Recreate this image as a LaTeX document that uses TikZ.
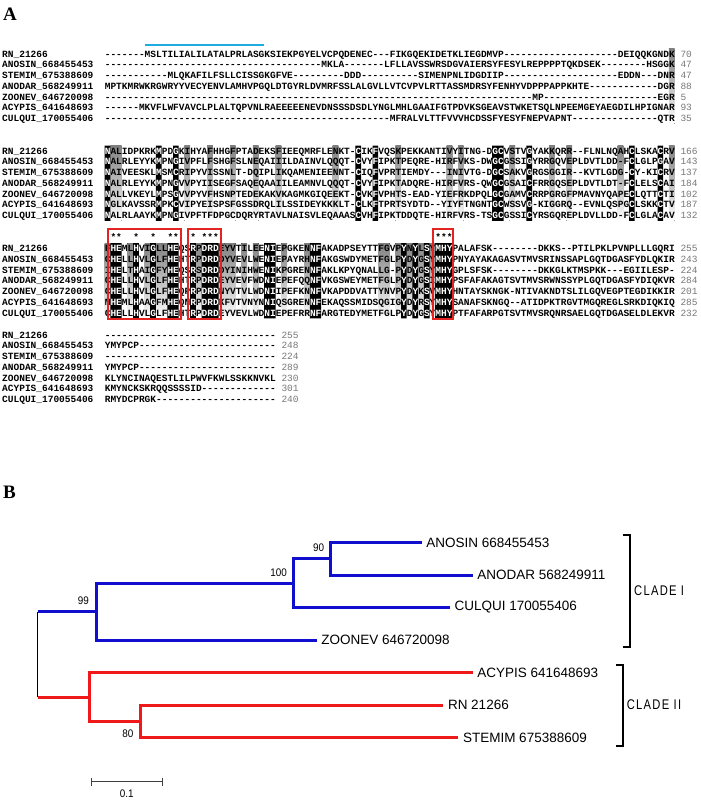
\documentclass[tikz,border=0pt]{standalone}
\usepackage{fontspec}
\setmainfont{Liberation Serif}
\setsansfont{Liberation Sans}
\setmonofont{Liberation Mono}
\newfontfamily\cladefont[FakeStretch=0.8,LetterSpace=9]{Liberation Sans}
\newfontfamily\bsfont[FakeStretch=0.9]{Liberation Sans}
\usetikzlibrary{positioning}

\definecolor{treeblue}{RGB}{15,15,205}
\definecolor{treered}{RGB}{240,25,25}
\definecolor{boxred}{RGB}{228,35,35}
\definecolor{barcyan}{RGB}{30,172,225}
\definecolor{numgray}{RGB}{120,120,120}
\definecolor{shade}{RGB}{228,228,228}

\newcommand{\alnfont}{\ttfamily\bfseries\fontsize{9.5}{9.5}\selectfont}
\newcommand{\numfont}{\ttfamily\fontsize{9.5}{9.5}\selectfont}
\newcommand{\leaffont}{\sffamily\fontsize{13.5}{13.5}\selectfont}
\newcommand{\bootfont}{\bsfont\fontsize{11}{11}\selectfont}

\newcommand{\colw}{5.7}   % width of one alignment column
\newcommand{\rowh}{10.75} % distance between alignment rows
\newcommand{\gaps}[1]{\foreach \k in {1,...,#1}{-}}

% alignment rows: name / sequence / end position
\newcommand{\rowsA}{%
RN\_21266/\gaps{7}MSLTILIALILATALPRLASGKSIEKPGYELVCPQDENEC\gaps{3}FIKGQEKIDETKLIEGDMVP\gaps{20}DEIQQKGNDK/70,%
ANOSIN\_668455453/\gaps{38}MKLA\gaps{7}LFLLAVSSWRSDGVAIERSYFESYLREPPPPTQKDSEK\gaps{8}HSGGK/47,%
STEMIM\_675388609/\gaps{11}MLQKAFILFSLLCISSGKGFVE\gaps{9}DDD\gaps{10}SIMENPNLIDGDIIP\gaps{20}EDDN\gaps{3}DNR/47,%
ANODAR\_568249911/MPTKMRWKRGWRYYVECYENVLAMHVPGQLDTGYRLDVMRFSSLALGVLLVTCVPVLRTTASSMDRSYFENHYVDPPPAPPKHTE\gaps{12}DGR/88,%
ZOONEV\_646720098/\gaps{75}MP\gaps{20}EGR/5,%
ACYPIS\_641648693/\gaps{6}MKVFLWFVAVCLPLALTQPVNLRAEEEEENEVDNSSSDSDLYNGLMHLGAAIFGTPDVKSGEAVSTWKETSQLNPEEMGEYAEGDILHPIGNAR/93,%
CULQUI\_170055406/\gaps{50}MFRALVLTTFVVVHCDSSFYESYFNEPVAPNT\gaps{15}QTR/35}
\newcommand{\rowsB}{%
RN\_21266/NALIDPKRKMPDGKIHYAFHHGFPTADEKSFIEEQMRFLENKT-CIKFVQSKPEKKANTIVYITNG-DGCVSTVGYAKKQRR\gaps{2}FLNLNQAHCLSKACRV/166,%
ANOSIN\_668455453/NALRLEYYKMPNGIVPFLFSHGFSLNEQAIIILDAINVLQQQT-CVYFIPKTPEQRE-HIRFVKS-DWGCGSSIGYRRGQVEPLDVTLDD-FCLGLPGAV/143,%
STEMIM\_675388609/NAIVEESKLMSMCRIPYVISSNLT-DQIPLIKQAMENIEENNT-CIQFVPRTIEMDY\gaps{3}INIVTG-DGCSAKVGRGSGGIR\gaps{2}KVTLGDG-CY-KICRV/137,%
ANODAR\_568249911/NALRLEYYKMPNGVVPYIISEGFSAQEQAAIILEAMNVLQQQT-CVYFIPKTADQRE-HIRFVRS-QWGCGSAICFRRGQSEPLDVTLDT-FCLELSCAI/184,%
ZOONEV\_646720098/NALLVKEYLMPSGVVPYVFHSNPTEDEKAKVKAGMKGIQEEKT-CVKFVPHTS-EAD-YIEFRKDPQLGCGAMVCRRPGRGFPMAVNYQAPECLQTTCTI/102,%
ACYPIS\_641648693/NGLKAVSSRMPKCVIPYEISPSFGSSDRQLILSSIDEYKKKLT-CLKFTPRTSYDTD\gaps{2}YIYFTNGNTGCWSSVG-KIGGRQ\gaps{2}EVNLQSPGCLSKKCTV/187,%
CULQUI\_170055406/NALRLAAYKMPNGIVPFTFDPGCDQRYRTAVLNAISVLEQAAASCVHFIPKTDDQTE-HIRFVRS-TSGCGSSICYRSGQREPLDVLLDD-FCLGLACAV/132}
\newcommand{\rowsC}{%
RN\_21266/FHEMLHVIGLLHEQSRPDRDEYVTILEENIEPGKENNFAKADPSEYTTFGVPYNYLSYMHYPALAFSK\gaps{8}DKKS\gaps{2}PTILPKLPVNPLLLGQRI/255,%
ANOSIN\_668455453/CHELLHVLGLFHEHTRPDRDDYVEVLWENIEPAYRHNFAKGSWDYMETFGLPYDYGSYMHYPNYAYAKAGASVTMVSRINSSAPLGQTDGASFYDLQKIR/243,%
STEMIM\_675388609/IHELTHAIGFYHEQSRSDRDDYINIHWENIKPGRENNFAKLKPYQNALLG-PYDYGSYMHYGPLSFSK\gaps{8}DKKGLKTMSPKK\gaps{3}EGIILESP-/224,%
ANODAR\_568249911/CHELLHVLGLFHEHTRPDRDEYVEVFWDNIEPEFQQNFVKGSWEYMETFGLPYDYGSIMHYPSFAFAKAGTSVTMVSRWNSSYPLGQTDGASFYDIQKVR/284,%
ZOONEV\_646720098/CHELLHVLGLFHEQPRPDRDNYVTVLWDNIIPEFKNNFVKAPDDVATTYNVPYDYKSVMHYHNTAYSKNGK-NTIVAKNDTSLILGQVEGPTEGDIKKIR/201,%
ACYPIS\_641648693/MHEMLHAAGFMHEQNRPDRDKFVTVNYNNIQSGRENNFEKAQSSMIDSQGIGYDYRSYMHYSANAFSKNGQ\gaps{2}ATIDPKTRGVTMGQREGLSRKDIQKIQ/285,%
CULQUI\_170055406/CHELLHVLGLFHEHTRPDRDEYVEVLWDNIEPEFRRNFARGTEDYMETFGLPYDYGSYMHYPTFAFARPGTSVTMVSRQNRSAELGQTDGASELDLEKVR/232}
\newcommand{\rowsD}{%
RN\_21266/\gaps{30}/255,%
ANOSIN\_668455453/YMYPCP\gaps{24}/248,%
STEMIM\_675388609/\gaps{30}/224,%
ANODAR\_568249911/YMYPCP\gaps{24}/289,%
ZOONEV\_646720098/KLYNCINAQESTLILPWVFKWLSSKKNVKL/230,%
ACYPIS\_641648693/KMYNCKSKRQQSSSSID\gaps{13}/301,%
CULQUI\_170055406/RMYDCPRGK\gaps{21}/240}

% #1 prefix, #2 y of first row, #3 rows, #4 x of end numbers
\newcommand{\alnblock}[4]{%
  \foreach \rname/\rseq/\rnum [count=\r from 0] in #3 {
    \node[alnname] (#1n\r) at (2,#2+\r*\rowh) {\rname};
    \node[alnseq] (#1s\r) at (104.6,#2+\r*\rowh) {\rseq};
    \node[alnnum] (#1e\r) at (#4,#2+\r*\rowh) {\rnum};
  }}
% #1 columns, #2 y of first row
\newcommand{\shadecols}[2]{%
  \foreach \c in {#1}
    \fill[shade] (104.6+\c*\colw,#2-5.4) rectangle ++(\colw,6*\rowh+10.8);}
% #1 columns, #2 y of first row, #3 rows, #4 prefix
\newcommand{\blackcols}[4]{%
  \begin{scope}
    \clip \foreach \c in {#1} {(104.6+\c*\colw,#2-5.4) rectangle ++(\colw,6*\rowh+10.8)};
    \fill[black] (0,0) rectangle (701,800);
    \foreach \rname/\rseq/\rnum [count=\r from 0] in #3
      \node[alnseq,text=white] (#4w\r) at (104.6,#2+\r*\rowh) {\rseq};
  \end{scope}}

\begin{document}
\begin{tikzpicture}[x=1pt,y=-1pt,
  alnname/.style={font=\alnfont,anchor=base west,inner sep=0pt,yshift=-3.1pt},
  alnseq/.style={font=\alnfont,anchor=base west,inner sep=0pt,yshift=-3.1pt},
  alnnum/.style={font=\numfont,text=numgray,anchor=base west,inner sep=0pt,yshift=-3.1pt},
  panel/.style={font=\rmfamily\bfseries\fontsize{19}{19}\selectfont,inner sep=0pt},
  redbox/.style={draw=boxred,line width=2pt},
  bluebr/.style={treeblue,line width=3pt},
  redbr/.style={treered,line width=3pt},
  leaf/.style={font=\leaffont,anchor=west,inner xsep=4.5pt,inner ysep=0pt},
  boot/.style={font=\bootfont,inner sep=0pt},
  clade/.style={font=\cladefont\fontsize{14}{14}\selectfont,anchor=west,inner sep=0pt},
  bracket/.style={black,line width=1.6pt},
  scalebar/.style={black!75,line width=1.3pt}]
\useasboundingbox[fill=white] (0,0) rectangle (701,800);

% panel A: alignment
\node[panel] (lblA) at (10,14.5) {A};
\draw[barcyan,line width=2.6pt] (104.6+7*\colw,45) -- (104.6+28*\colw,45);

\shadecols{99}{54}
\shadecols{1,2,14,18,22,26,30,40,51,60,62,71,78,81,90,99}{151}
\shadecols{0,4,7,9,10,16,20,21,22,24,26,31,35,48,49,51,53,55,57}{248.5}

\alnblock{a}{54}{\rowsA}{680.3}
\alnblock{b}{151}{\rowsB}{680.3}
\alnblock{c}{248.5}{\rowsC}{680.3}
\alnblock{d}{335}{\rowsD}{281.3}

\blackcols{0,9,12,44,47,68,69,74,92,97}{151}{\rowsB}{b}
\blackcols{1,2,5,8,11,12,15,17,18,19,28,29,36,37,52,54,56,58,59,60}{248.5}{\rowsC}{c}

\foreach \c in {1,2,5,8,11,12,15,17,18,19,58,59,60}
  \node[alnseq] (star\c) at (104.6+\c*\colw,248.5-\rowh) {*};

\draw[redbox] (104.6+1*\colw-2,229) rectangle (104.6+13*\colw+2,318.7);
\draw[redbox] (104.6+15*\colw-2,229) rectangle (104.6+20*\colw+2,318.7);
\draw[redbox] (104.6+58*\colw-2,229) rectangle (104.6+61*\colw+1,318.7);

% panel B: tree
\node[panel] (lblB) at (9.5,492) {B};

\coordinate (rtop) at (37.7,611.5);
\coordinate (rbot) at (37.7,697);
\coordinate (n99) at (96,611.5);
\coordinate (n100) at (293.3,583.2);
\coordinate (n90) at (330,558.8);
\coordinate (nII) at (89.3,697);
\coordinate (n80) at (140.7,721.2);

\node[leaf] (anosin) at (421.7,542.5) {ANOSIN 668455453};
\node[leaf] (anodar) at (472.7,575) {ANODAR 568249911};
\node[leaf] (culqui) at (450,607.5) {CULQUI 170055406};
\node[leaf] (zoonev) at (316.7,640) {ZOONEV 646720098};
\node[leaf] (acypis) at (472.7,672.5) {ACYPIS 641648693};
\node[leaf] (rn) at (443.3,705) {RN 21266};
\node[leaf] (stemim) at (458.3,737.5) {STEMIM 675388609};

\draw[line width=0.8pt] (rtop) -- (rbot);
\draw[bluebr] (rtop) -- (n99);
\draw[bluebr] (n99) |- (n100) (n99) |- (zoonev.west);
\draw[bluebr] (n100) |- (n90) (n100) |- (culqui.west);
\draw[bluebr] (n90) |- (anosin.west) (n90) |- (anodar.west);
\draw[redbr] (rbot) -- (nII);
\draw[redbr] (nII) |- (acypis.west) (nII) |- (n80);
\draw[redbr] (n80) |- (rn.west) (n80) |- (stemim.west);

\node[boot,above left=6.6pt and 7pt of n99] (b99) {99};
\node[boot,above left=6.7pt and 6.3pt of n100] (b100) {100};
\node[boot,above left=6.9pt and 5.7pt of n90] (b90) {90};
\node[boot,below left=8.7pt and 7pt of n80] (b80) {80};

\draw[bracket] (623.3,535) -- (630,535) -- (630,646.7) -- (623.3,646.7);
\node[clade] (cladeI) at (634,591) {CLADE I};
\draw[bracket] (616,665) -- (622.7,665) -- (622.7,745.7) -- (616,745.7);
\node[clade] (cladeII) at (626.7,705) {CLADE II};

\draw[scalebar] (91.7,777.7) -- (91.7,785.7) (91.7,781.7) -- (162.3,781.7) (162.3,777.7) -- (162.3,785.7);
\node[boot] (sclab) at (126.7,793.3) {0.1};
\end{tikzpicture}
\end{document}
